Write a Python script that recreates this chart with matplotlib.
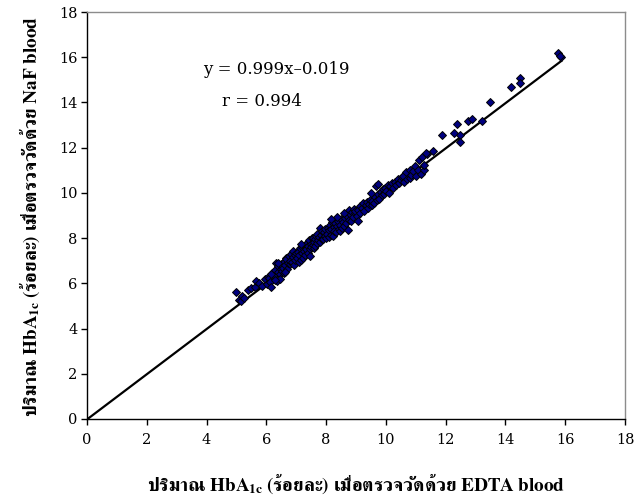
import matplotlib
matplotlib.use("Agg")
import matplotlib.pyplot as plt
import numpy as np

plt.rcParams["font.family"] = ["FreeSerif", "DejaVu Serif"]
plt.rcParams["mathtext.fontset"] = "custom"
plt.rcParams["mathtext.rm"] = "FreeSerif"
plt.rcParams["mathtext.bf"] = "FreeSerif:bold"
plt.rcParams["mathtext.it"] = "FreeSerif:italic"

# HbA1c (%) measured with EDTA blood (x) and NaF blood (y)
edta = [
    4.97, 5.08, 5.14, 5.20, 5.25, 5.38, 5.50, 5.62, 5.67, 5.76, 5.85, 5.95,
    6.02, 6.05, 6.10, 6.12, 6.17, 6.20, 6.25, 6.30, 6.33, 6.35, 6.38, 6.40, 6.45, 6.48,
    6.50, 6.52, 6.55, 6.58, 6.60, 6.62, 6.65, 6.67, 6.70, 6.72, 6.75, 6.78, 6.80, 6.82,
    6.85, 6.88, 6.90, 6.92, 6.95, 6.97, 6.99, 6.45, 6.28, 6.15, 6.62, 6.40,
    7.02, 7.05, 7.08, 7.10, 7.12, 7.15, 7.18, 7.20, 7.22, 7.25, 7.28, 7.30, 7.32, 7.34,
    7.36, 7.38, 7.40, 7.42, 7.45, 7.48, 7.50, 7.52, 7.55, 7.56, 7.58, 7.60, 7.62, 7.64,
    7.66, 7.68, 7.70, 7.72, 7.75, 7.78, 7.80, 7.82, 7.85, 7.87, 7.90, 7.92, 7.95, 7.97,
    7.99, 7.15, 7.45,
    8.02, 8.05, 8.08, 8.10, 8.12, 8.15, 8.18, 8.20, 8.23, 8.25, 8.28, 8.30, 8.33, 8.36,
    8.39, 8.42, 8.45, 8.48, 8.50, 8.53, 8.56, 8.60, 8.63, 8.66, 8.70, 8.73, 8.75, 8.78,
    8.80, 8.83, 8.86, 8.90, 8.92, 8.95, 8.98, 8.35, 8.60, 8.15,
    9.02, 9.06, 9.08, 9.12, 9.15, 9.20, 9.25, 9.28, 9.32, 9.36, 9.40, 9.45, 9.48, 9.52,
    9.55, 9.60, 9.64, 9.68, 9.70, 9.74, 9.78, 9.82, 9.86, 9.90, 9.94, 9.97, 9.50, 9.75,
    10.02, 10.06, 10.10, 10.15, 10.20, 10.25, 10.30, 10.35, 10.40, 10.45, 10.50, 10.55,
    10.57, 10.62, 10.68, 10.72, 10.79, 10.79, 10.85, 10.90, 10.96, 11.01, 11.07, 11.12,
    11.18, 11.21, 11.27, 11.29, 11.37, 11.57,
    11.35, 11.88, 12.29, 12.37, 12.48, 12.48, 12.76, 12.87, 13.22, 13.48, 14.18, 14.50,
    14.50, 15.77, 15.87, 15.83,
]
naf = [
    5.60, 5.25, 5.20, 5.42, 5.35, 5.72, 5.78, 5.82, 6.10, 6.03, 5.90, 6.18,
    5.95, 6.30, 6.22, 6.05, 5.85, 6.45, 6.35, 6.60, 6.91, 6.10, 6.50, 6.75, 6.40, 6.62,
    6.85, 6.55, 6.70, 6.45, 6.95, 6.80, 7.10, 7.06, 6.65, 6.90, 7.20, 6.85, 7.00, 7.30,
    6.95, 7.43, 7.15, 6.80, 7.25, 7.05, 7.35, 6.20, 6.15, 6.40, 6.50, 6.90,
    7.10, 7.40, 6.95, 7.25, 7.55, 7.05, 7.35, 7.60, 7.13, 7.45, 7.70, 7.25, 7.55, 7.50,
    7.80, 7.35, 7.65, 7.90, 7.50, 7.75, 7.60, 8.00, 7.70, 8.01, 7.85, 7.55, 7.65, 7.95,
    8.10, 7.80, 8.20, 7.90, 8.05, 8.46, 7.85, 8.15, 8.30, 7.95, 7.94, 8.25, 8.10, 8.40,
    8.00, 7.75, 7.20,
    8.20, 8.45, 8.05, 8.35, 8.60, 8.15, 8.40, 8.70, 8.09, 8.50, 8.30, 8.65, 8.25, 8.55,
    8.75, 8.40, 8.31, 8.60, 8.85, 8.45, 8.70, 8.55, 8.90, 8.65, 9.00, 8.38, 8.80, 9.26,
    9.05, 8.75, 9.15, 8.95, 9.30, 9.10, 9.20, 8.95, 9.10, 8.85,
    9.00, 8.75, 9.25, 9.40, 9.10, 9.35, 9.55, 9.20, 9.45, 9.60, 9.35, 9.50, 9.70, 9.45,
    9.65, 9.55, 9.80, 10.29, 9.70, 9.95, 9.75, 10.05, 9.90, 10.15, 9.95, 10.20, 10.00, 10.40,
    10.10, 10.37, 10.00, 10.30, 10.45, 10.20, 10.50, 10.35, 10.60, 10.44, 10.55, 10.70,
    10.74, 10.50, 10.91, 10.60, 11.00, 10.66, 10.80, 10.95, 11.18, 10.74, 11.00, 11.45,
    10.85, 11.57, 11.03, 11.25, 11.72, 11.87,
    11.76, 12.57, 12.67, 13.06, 12.57, 12.25, 13.19, 13.26, 13.16, 14.04, 14.67, 15.10,
    14.85, 16.17, 16.00, 16.07,
]

slope = 0.999
intercept = -0.019
r_value = 0.994
line_x = [0.0, 15.9]
x_ticks = list(range(0, 19, 2))
y_ticks = list(range(0, 19, 2))

fig = plt.figure(figsize=(6.38, 4.99), dpi=100)
ax = fig.add_axes([87 / 638, 1 - 419 / 499, (625 - 87) / 638, (419 - 12) / 499])

lx = np.array(line_x)
ax.plot(lx, slope * lx + intercept, color="black", lw=1.6, zorder=2, solid_capstyle="butt")
ax.plot(edta, naf, linestyle="none", marker="D", markersize=3.8,
        markerfacecolor="#000080", markeredgecolor="black", markeredgewidth=0.7, zorder=3)

ax.set_xlim(0, 18)
ax.set_ylim(0, 18)
ax.set_xticks(x_ticks)
ax.set_yticks(y_ticks)
ax.tick_params(direction="out", length=4, width=1, color="black")
ax.tick_params(axis="x", pad=6)
ax.tick_params(axis="y", pad=3)
for lab in ax.get_xticklabels() + ax.get_yticklabels():
    lab.set_family("DejaVu Serif")
    lab.set_fontsize(10.5)
for s in ("left", "bottom"):
    ax.spines[s].set_color("black")
    ax.spines[s].set_linewidth(1.0)
for s in ("top", "right"):
    ax.spines[s].set_color("#8c8c8c")
    ax.spines[s].set_linewidth(1.0)

ax.text(276 / 638, 1 - 69 / 499, f"y = {slope:.3f}x\u2013{abs(intercept):.3f}",
        transform=fig.transFigure, ha="center", va="center", fontsize=12,
        family="DejaVu Serif")
ax.text(262 / 638, 1 - 101 / 499, f"r = {r_value:.3f}",
        transform=fig.transFigure, ha="center", va="center", fontsize=12,
        family="DejaVu Serif")

fig.text(356 / 638, 1 - 484 / 499,
         "ปริมาณ HbA$_{\\mathbf{1c}}$ (ร้อยละ) เมื่อตรวจวัดด้วย EDTA blood",
         ha="center", va="center", fontsize=13.8, fontweight="bold")
fig.text(30 / 638, 1 - 216 / 499,
         "ปริมาณ HbA$_{\\mathbf{1c}}$ (ร้อยละ) เมื่อตรวจวัดด้วย NaF blood",
         ha="center", va="center", rotation=90, fontsize=13.8, fontweight="bold")

fig.savefig("out.png", dpi=100)
